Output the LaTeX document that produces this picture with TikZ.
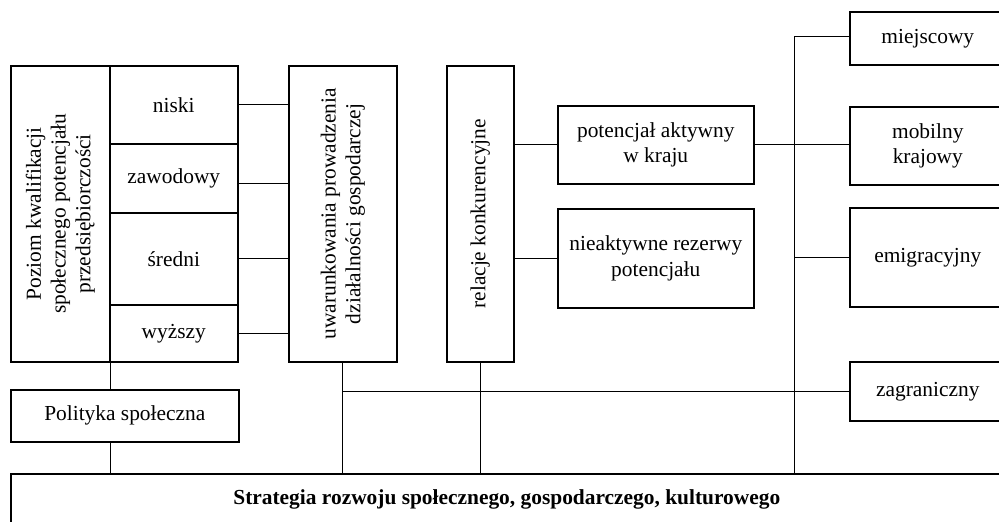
\documentclass[tikz,border=0pt]{standalone}
\usepackage{fontspec}
\setmainfont{Liberation Serif}
\usepackage{tikz}

\begin{document}
\begin{tikzpicture}[x=0.5pt,y=-0.5pt,
        box/.style={draw, line width=0.8pt, anchor=north west, inner sep=0pt, align=center, font=\fontsize{10.7}{12.6}\selectfont},
        vtext/.style={rotate=90, align=center, font=\fontsize{10.7}{12.4}\selectfont},
        link/.style={line width=0.5pt}]
    \useasboundingbox (0,0) rectangle (999,522);
    \clip (0,0) rectangle (999,522);
    % left column
    \node[box, minimum width=49.5pt, minimum height=148pt] (lev) at (10,65) {};
    \node[vtext] (levtxt) at (lev.center) {Poziom kwalifikacji\\społecznego potencjału\\przedsiębiorczości};
    \node[box, minimum width=64pt, minimum height=39pt] (niski) at (109,65) {niski};
    \node[box, minimum width=64pt, minimum height=34.5pt] (zaw) at (109,143) {zawodowy};
    \node[box, minimum width=64pt, minimum height=46pt] (sred) at (109,212) {średni};
    \node[box, minimum width=64pt, minimum height=28.5pt] (wyz) at (109,304) {wyższy};
    \node[box, minimum width=114pt, minimum height=26pt] (polit) at (10,389) {Polityka społeczna};
    % middle
    \node[box, minimum width=54pt, minimum height=148pt] (uwar) at (288,65) {};
    \node[vtext] (uwartxt) at (uwar.center) {uwarunkowania prowadzenia\\działalności gospodarczej};
    \node[box, minimum width=33.5pt, minimum height=148pt] (rel) at (446,65) {};
    \node[vtext] (reltxt) at (rel.center) {relacje konkurencyjne};
    \node[box, minimum width=98pt, minimum height=39pt] (akt) at (557,105) {potencjał aktywny\\w kraju};
    \node[box, minimum width=98pt, minimum height=49.5pt] (niea) at (557,208) {nieaktywne rezerwy\\potencjału};
    % right column
    \node[box, minimum width=78pt, minimum height=26.5pt] (miej) at (849,11) {miejscowy};
    \node[box, minimum width=78pt, minimum height=39pt] (mob) at (849,106) {mobilny\\krajowy};
    \node[box, minimum width=78pt, minimum height=49.5pt] (emig) at (849,207) {emigracyjny};
    \node[box, minimum width=78pt, minimum height=29.5pt] (zagr) at (849,361) {zagraniczny};
    % bottom
    \node[box, minimum width=496pt, minimum height=26pt, font=\fontsize{10.7}{12.6}\selectfont\bfseries] (strat) at (10,473) {Strategia rozwoju społecznego, gospodarczego, kulturowego};
    \coordinate (trunk) at (794,37);

    \draw[link] (niski.east) -- (niski.east -| uwar.west);
    \draw[link] ([yshift=-2.5pt]zaw.east) -- ([yshift=-2.5pt]zaw.east -| uwar.west);
    \draw[link] (sred.east) -- (sred.east -| uwar.west);
    \draw[link] (wyz.east) -- (wyz.east -| uwar.west);
    \draw[link] (lev.south east) -- (lev.south east |- polit.north);
    \draw[link] (polit.south -| lev.east) -- (lev.east |- strat.north);
    \draw[link] (uwar.south) -- (uwar.south |- strat.north);
    \draw[link] (rel.south) -- (rel.south |- strat.north);
    \draw[link] (uwar.south |- zagr.west) -- (zagr.west);
    \draw[link] (rel.east |- akt.west) -- (akt.west);
    \draw[link] (rel.east |- niea.west) -- (niea.west);
    \draw[link] (akt.east) -- (akt.east -| mob.west);
    \draw[link] (trunk) -- (trunk |- strat.north);
    \draw[link] (trunk) -- (trunk -| miej.west);
    \draw[link] (trunk |- emig.west) -- (emig.west);
\end{tikzpicture}
\end{document}
